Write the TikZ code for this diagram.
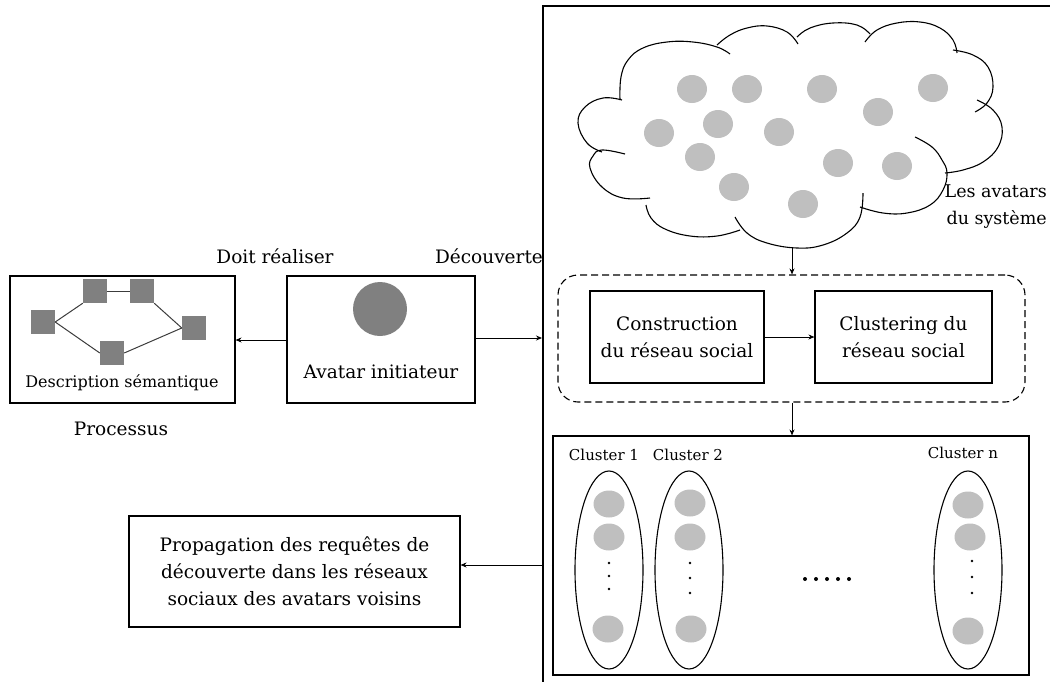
\documentclass[tikz,border=0pt]{standalone}
\usepackage{fontspec}
\setmainfont{DejaVu Serif}
\usetikzlibrary{arrows.meta,calc,shapes.geometric}
\definecolor{sqgray}{RGB}{128,128,128}
\definecolor{dotgray}{RGB}{191,191,191}
\definecolor{linegray}{RGB}{60,60,60}
\begin{document}
\begin{tikzpicture}[x=1pt,y=-1pt,
  box/.style={draw, line width=1.1pt, rectangle, inner sep=0pt},
  lbl/.style={font=\fontsize{18.5}{27}\selectfont, align=center, inner sep=0pt},
  slbl/.style={font=\fontsize{16}{20}\selectfont, align=center, inner sep=0pt},
  clbl/.style={font=\fontsize{15}{18}\selectfont, align=center, inner sep=0pt},
  arr/.style={-{Stealth[length=6pt,width=5pt]}, line width=0.9pt},
  sq/.style={fill=sqgray, minimum size=24pt, inner sep=0pt},
  gdot/.style={ellipse, fill=dotgray, minimum width=30pt, minimum height=28pt, inner sep=0pt},
  cdot/.style={ellipse, fill=dotgray, minimum width=31pt, minimum height=27pt, inner sep=0pt},
  bdot/.style={circle, fill=black, minimum size=2.8pt, inner sep=0pt},
  clus/.style={ellipse, draw, line width=1.1pt, minimum width=68pt, minimum height=198pt, inner sep=0pt},
  bump/.style={line width=1.1pt, draw=black, smooth, tension=0.7}
]
\useasboundingbox (0,0) rectangle (1050,681);

% big open frame
\draw[line width=1.6pt] (543,690) -- (543,6) -- (1060,6);
\coordinate (fr1) at (542,338);
\coordinate (fr2) at (543,565);

% left: description semantique
\node[box, minimum width=225pt, minimum height=127pt] (ds) at (122.5,339.5) {};
\node[sq] (s1) at (43,322) {};
\node[sq] (s2) at (95,291) {};
\node[sq] (s3) at (142,291) {};
\node[sq] (s4) at (194,328) {};
\node[sq] (s5) at (112,353) {};
\draw[linegray, line width=1pt] (s1.east) -- (s2.south west);
\draw[linegray, line width=1pt] (s2.east) -- (s3.west);
\draw[linegray, line width=1pt] (s3.south east) -- (s4.west);
\draw[linegray, line width=1pt] (s1.east) -- (s5.west);
\draw[linegray, line width=1pt] (s5.east) -- (s4.west);
\node[slbl] (dst) at (122,383) {Description sémantique};
\node[lbl] (pr) at (121,429) {Processus};

% avatar initiateur
\node[box, minimum width=188pt, minimum height=127pt] (av) at (381,339.5) {};
\node[circle, fill=sqgray, minimum size=54pt, inner sep=0pt] (avc) at (380,309) {};
\node[lbl] (avt) at (381,372) {Avatar initiateur};
\node[lbl] (dr) at (275,256) {Doit réaliser};
\node[lbl] (dc) at (489,256) {Découverte};

\draw[arr] (av.west |- 0,340) -- (ds.east |- 0,340);
\draw[arr] (av.east |- fr1) -- (fr1);

% cloud, drawn bump by bump
\draw[bump] plot coordinates {(620,100) (621,77) (628,60) (643,48) (667,42) (693,42) (717,47) (730,54)};
\draw[bump] plot coordinates {(717,45) (730,35) (747,28) (767,26) (787,32) (798,44)};
\draw[bump] plot coordinates {(797,37) (810,28) (833,23) (857,25) (870,34)};
\draw[bump] plot coordinates {(865,42) (877,30) (897,23) (920,22) (940,28) (953,40) (957,53)};
\draw[bump] plot coordinates {(953,50) (973,55) (988,67) (993,87) (987,103) (975,112)};
\draw[bump] plot coordinates {(977,100) (993,110) (1002,127) (998,147) (983,162) (963,170) (945,173)};
\draw[bump] plot coordinates {(915,137) (932,147) (942,160) (947,173) (943,190) (930,205) (907,213) (883,213) (860,207)};
\draw[bump] plot coordinates {(863,193) (860,217) (847,233) (823,245) (797,248) (767,243) (747,233) (735,217)};
\draw[bump] plot coordinates {(740,230) (717,236) (690,236) (665,229) (651,218) (646,205)};
\draw[bump] plot coordinates {(650,198) (623,198) (602,187) (590,168) (593,156) (602,150) (625,154)};
\draw[bump] plot coordinates {(602,152) (587,143) (578,123) (585,107) (603,98) (622,100)};
\coordinate (cb) at (792,248);

\foreach \p in {(692,89),(747,89),(822,89),(933,88),(878,112),(659,133),(718,124),(779,132),(700,157),(838,163),(897,166),(734,187),(803,204)}
  \node[gdot] at \p {};

\node[lbl, font=\fontsize{17.5}{27}\selectfont, align=right, anchor=east] (la) at (1047,207) {Les avatars\\du système};

% dashed group
\node[draw, dashed, dash pattern=on 7pt off 4pt, line width=1.1pt, rounded corners=20pt,
      minimum width=467pt, minimum height=127pt, inner sep=0pt] (grp) at (791.5,338.5) {};
\node[box, lbl, minimum width=174pt, minimum height=92pt] (cons) at (677,337) {Construction\\du réseau social};
\node[box, lbl, minimum width=177pt, minimum height=92pt] (clu) at (903.5,337) {Clustering du\\réseau social};
\draw[arr] (cons.east) -- (clu.west);
\draw[arr] (cb) -- (cb |- grp.north);

% clusters box
\node[box, minimum width=476pt, minimum height=239pt] (cl) at (791,555.5) {};
\draw[arr] (grp.south -| cb) -- (cb |- cl.north);

\node[clbl] (c1) at (604,455) {Cluster 1};
\node[clbl] (c2) at (688,455) {Cluster 2};
\node[clbl] (cn) at (963,453) {Cluster n};

\node[clus] (e1) at (609,570) {};
\node[clus] (e2) at (689,570) {};
\node[clus] (en) at (968,570) {};

\foreach \p in {(609,504),(609,537),(608,629),(690,503),(690,537),(691,629),(968,505),(970,537),(968,631)}
  \node[cdot] at \p {};
\foreach \p in {(609,563),(609,576),(609,589),(690,563),(690,578),(690,593),(972,561),(972,577),(972,593)}
  \node[bdot] at \p {};
\foreach \x in {805,816,827,838,849}
  \node[bdot, minimum size=4pt] at (\x,579) {};

% propagation
\node[box, lbl, minimum width=331pt, minimum height=111pt] (prop) at (294.5,571.5) {Propagation des requêtes de\\découverte dans les réseaux\\sociaux des avatars voisins};
\draw[arr] (fr2) -- (fr2 -| prop.east);
\end{tikzpicture}
\end{document}
